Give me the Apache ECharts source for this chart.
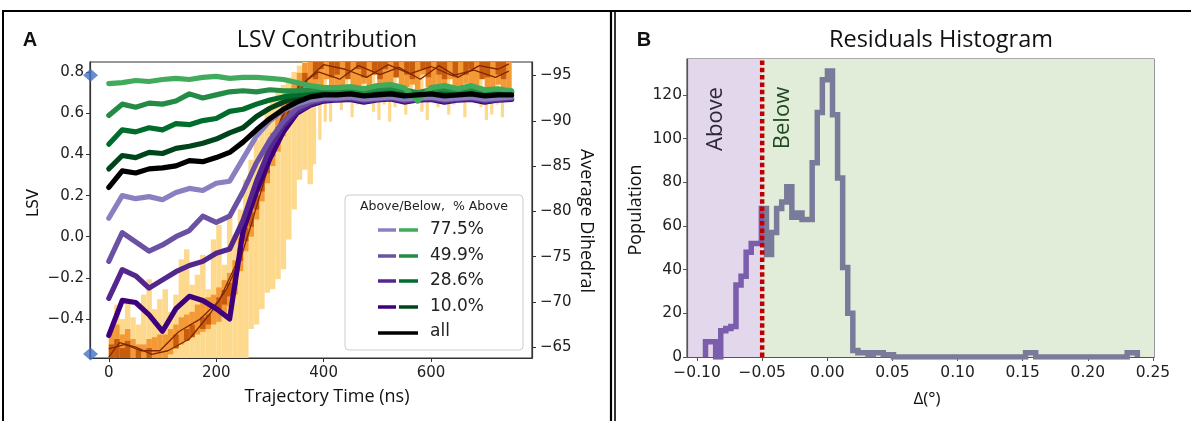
<!DOCTYPE html>
<html><head><meta charset="utf-8">
<script src="https://cdn.jsdelivr.net/npm/echarts@6/dist/echarts.min.js"></script>
<style>html,body{margin:0;padding:0;background:#fff}#c{width:1191px;height:421px}</style>
</head><body><div id="c"></div>
<script>
// ---------- Panel A data ----------
const times = [0,25,50,75,100,125,150,175,200,225,250,275,300,325,350,375,400,425,450,475,500,525,550,575,600,625,650,675,700,725,750];
const green775 = [0.745,0.75,0.76,0.755,0.765,0.77,0.765,0.775,0.78,0.77,0.775,0.775,0.77,0.765,0.75,0.735,0.725,0.725,0.73,0.72,0.735,0.74,0.725,0.66,0.725,0.735,0.72,0.735,0.715,0.72,0.71];
const green499 = [0.59,0.645,0.63,0.65,0.645,0.66,0.695,0.675,0.69,0.705,0.71,0.705,0.715,0.71,0.71,0.715,0.72,0.715,0.72,0.71,0.72,0.725,0.715,0.70,0.715,0.72,0.71,0.72,0.71,0.715,0.705];
const green286 = [0.45,0.52,0.51,0.53,0.52,0.55,0.545,0.565,0.575,0.61,0.62,0.645,0.665,0.68,0.69,0.70,0.71,0.71,0.715,0.705,0.71,0.715,0.705,0.695,0.71,0.71,0.705,0.715,0.705,0.71,0.70];
const green100 = [0.33,0.395,0.385,0.41,0.405,0.43,0.44,0.455,0.475,0.505,0.53,0.585,0.625,0.655,0.68,0.69,0.70,0.705,0.71,0.70,0.705,0.71,0.70,0.69,0.705,0.705,0.70,0.71,0.70,0.705,0.70];
const allLSV   = [0.24,0.32,0.31,0.33,0.335,0.345,0.37,0.365,0.385,0.41,0.46,0.52,0.575,0.62,0.655,0.68,0.69,0.69,0.695,0.685,0.69,0.695,0.685,0.69,0.695,0.685,0.69,0.695,0.685,0.69,0.69];
const purple775 = [0.09,0.2,0.185,0.195,0.18,0.215,0.235,0.225,0.26,0.27,0.38,0.49,0.565,0.615,0.645,0.665,0.675,0.675,0.68,0.67,0.675,0.68,0.67,0.675,0.68,0.67,0.675,0.68,0.67,0.675,0.68];
const purple499 = [-0.12,0.02,-0.025,-0.07,-0.04,0.0,0.03,0.1,0.07,0.1,0.22,0.36,0.47,0.56,0.625,0.655,0.67,0.672,0.676,0.665,0.672,0.677,0.665,0.672,0.676,0.665,0.672,0.676,0.665,0.672,0.676];
const purple286 = [-0.30,-0.16,-0.19,-0.25,-0.21,-0.17,-0.14,-0.12,-0.08,-0.06,0.08,0.27,0.43,0.54,0.61,0.645,0.665,0.668,0.672,0.66,0.668,0.674,0.66,0.668,0.672,0.66,0.668,0.672,0.66,0.668,0.672];
const purple100 = [-0.48,-0.31,-0.32,-0.38,-0.46,-0.35,-0.29,-0.31,-0.35,-0.40,0.03,0.22,0.38,0.51,0.60,0.64,0.66,0.665,0.668,0.655,0.665,0.67,0.655,0.665,0.668,0.655,0.665,0.668,0.655,0.665,0.668];

// dihedral density columns (right axis, degrees), every 10 ns
const colTimes = [0,10,20,30,40,50,60,70,80,90,100,110,120,130,140,150,160,170,180,190,200,210,220,230,240,250,260,270,280,290,300,310,320,330,340,350,360,370,380,390,400,410,420,430,440,450,460,470,480,490,500,510,520,530,540,550,560,570,580,590,600,610,620,630,640,650,660,670,680,690,700,710,720,730,740];
const yellowTop = [-67.0,-69.7,-68.1,-70.3,-68.3,-67.5,-70.8,-72.5,-69.2,-70.3,-71.4,-68.9,-70.8,-74.7,-75.8,-71.9,-73.0,-75.2,-71.4,-76.9,-78.5,-74.1,-79.7,-77.4,-80.2,-83.5,-85.7,-87.9,-89.6,-91.2,-92.4,-93.5,-94.0,-94.8,-95.4,-96.1,-96.5,-96.5,-96.5,-96.5,-96.5,-96.5,-96.5,-96.5,-96.5,-96.5,-96.5,-96.5,-96.5,-96.5,-96.5,-96.5,-96.5,-96.5,-96.5,-96.5,-96.5,-96.5,-96.5,-96.5,-96.5,-96.5,-96.5,-96.5,-96.5,-96.5,-96.5,-96.5,-96.5,-96.5,-96.5,-96.5,-96.5,-96.5,-96.5];
const yellowBottom = [-63.8,-63.8,-63.8,-63.8,-63.8,-63.8,-63.8,-63.8,-63.8,-63.8,-63.8,-63.8,-63.8,-63.8,-63.8,-63.8,-63.8,-63.8,-63.8,-63.8,-63.8,-63.8,-63.8,-63.8,-63.8,-63.8,-67.0,-67.5,-69.2,-71.0,-71.4,-72.5,-73.6,-76.9,-80.2,-83.5,-84.6,-83.0,-85.2,-87.9,-89.9,-89.9,-92.4,-91.2,-92.6,-90.4,-91.8,-92.4,-92.4,-91.0,-90.1,-91.8,-89.9,-91.5,-92.4,-90.7,-92.4,-92.6,-91.0,-90.1,-92.4,-91.5,-92.6,-90.7,-91.8,-92.4,-90.4,-92.4,-92.4,-91.5,-90.1,-90.7,-91.8,-90.4,-92.4];
const orangeTop = [-67.0,-67.5,-66.4,-67.0,-65.9,-65.3,-65.3,-65.9,-66.1,-66.4,-66.4,-67.0,-67.5,-68.3,-68.6,-68.9,-69.7,-70.3,-70.5,-70.8,-71.6,-72.4,-73.2,-74.6,-77.1,-79.3,-81.0,-82.9,-84.8,-86.8,-88.7,-90.4,-92.0,-93.3,-94.4,-95.3,-96.4,-96.5,-96.5,-96.5,-96.5,-96.5,-96.5,-96.5,-96.5,-96.5,-96.5,-96.5,-96.5,-96.5,-96.5,-96.5,-96.5,-96.5,-96.5,-96.5,-96.5,-96.5,-96.5,-96.5,-96.5,-96.5,-96.5,-96.5,-96.5,-96.5,-96.5,-96.5,-96.5,-96.5,-96.5,-96.5,-96.5,-96.5,-96.5];
const orangeBottom = [-63.8,-63.8,-63.8,-63.8,-63.8,-63.8,-63.8,-63.8,-63.8,-63.8,-63.8,-64.2,-64.8,-65.3,-65.9,-66.1,-66.4,-66.7,-67.0,-67.5,-67.8,-68.6,-69.5,-70.8,-73.4,-75.6,-77.2,-79.1,-81.1,-83.1,-85.0,-86.6,-88.3,-89.6,-90.7,-91.6,-92.7,-93.7,-94.0,-93.2,-94.6,-93.7,-93.5,-93.9,-95.1,-93.2,-93.7,-94.1,-93.5,-95.7,-93.7,-93.2,-93.9,-94.8,-93.5,-93.7,-94.0,-93.2,-95.1,-93.7,-93.5,-93.9,-93.2,-94.6,-93.7,-93.5,-94.1,-93.2,-93.9,-95.1,-93.7,-93.5,-94.0,-93.7,-93.5];
const darkTop = [-65.3,-65.9,-64.9,-65.7,null,-64.8,null,-64.9,null,null,null,null,-66.4,null,-67.0,-67.5,null,-68.3,-68.6,null,-70.5,-71.3,-72.1,-73.5,-76.0,-78.2,-79.9,-81.8,-83.7,-85.7,-87.6,-89.3,-90.9,-92.2,-93.3,-94.2,-95.3,null,-96.5,-96.5,null,-96.5,-96.5,null,-96.5,null,-96.5,-96.5,null,-96.5,-96.5,-96.5,null,-96.5,null,-96.5,-96.5,null,-96.5,-96.5,null,-96.5,-96.5,null,-96.5,null,-96.5,-96.5,null,-96.5,-96.5,null,-96.5,-96.5,null];
const darkBottom = [-63.8,-63.8,-63.8,-63.8,null,-63.8,null,-63.8,null,null,null,null,-64.9,null,-65.7,-66.1,null,-67.0,-67.5,null,-68.9,-69.7,-70.6,-71.9,-74.5,-76.7,-78.3,-80.2,-82.2,-84.2,-86.1,-87.7,-89.4,-90.7,-91.8,-92.7,-93.8,null,-94.6,-95.7,null,-94.8,-95.1,null,-94.6,null,-95.7,-94.8,null,-95.1,-94.6,-95.7,null,-94.8,null,-95.1,-94.6,null,-95.7,-94.8,null,-95.1,-94.6,null,-94.8,null,-95.1,-95.7,null,-94.6,-94.8,null,-95.1,-94.6,null];
const brownT1 = [0,30,60,95,130,170,205,235,255,280,320,355,390,430,465,505,540,580,615,650,690,725,745];
const brownD1 = [-64.8,-65.3,-64.6,-64.6,-66.7,-68.1,-70.1,-73.9,-78.0,-83.0,-90.1,-93.9,-95.4,-94.6,-96.1,-95.1,-95.9,-94.6,-96.1,-94.8,-96.1,-95.7,-96.3];
const brownT2 = [0,20,50,80,110,150,190,220,245,265,290,310,340,370,400,440,480,520,560,600,640,680,720,745];
const brownD2 = [-63.9,-65.5,-65.0,-64.2,-64.6,-65.9,-68.8,-71.5,-74.7,-78.5,-83.5,-87.5,-91.8,-94.6,-96.2,-95.7,-94.8,-96.2,-95.2,-96.0,-95.0,-95.6,-94.8,-95.5];
const legendLabels = ['77.5%','49.9%','28.6%','10.0%'];
const xTicksA = [0,200,400,600];
const yTicksA = [-0.4,-0.2,0,0.2,0.4,0.6,0.8];
const yTicksA2 = [-95,-90,-85,-80,-75,-70,-65];
const markerPts = [[-34,0.786],[-34,-0.571]];

// ---------- Panel B data ----------
const binStart = -0.0935, binWidth = 0.0039;
const histCounts = [7,7,0,12,13,14,33,37,48,52,52,68,47,57,68,71,78,64,66,63,63,89,112,127,131,111,82,41,20,3,2,2,1,2,2,1,1,
  0,0,0,0,0,0,0,0,0,0,0,0,0,0,0,0,0,0,0,0,0,0,0,0,0,0,
  2,2,
  0,0,0,0,0,0,0,0,0,0,0,0,0,0,0,0,0,0,
  2,2];
const splitX = -0.05;
const xRangeB = [-0.1077, 0.2508];
const yRangeB = [0, 136.5];
const xTicksB = [-0.1,-0.05,0,0.05,0.1,0.15,0.2,0.25];
const yTicksB = [0,20,40,60,80,100,120];

// ---------- styles ----------
const purpleCols = ['#8a80c1','#6a51a3','#54278f','#3f007d'];
const greenCols  = ['#41ab5d','#238b45','#006d2c','#00441b'];
const bgColors = ['#e3d7ec','#e1ecd9'];
const minus = s => String(s).replace('-', '\u2212');
const tickFontA = {fontFamily:'DejaVu Sans', fontSize:15, color:'#222'};
const tickFontB = {fontFamily:'DejaVu Sans', fontSize:15.5, color:'#222'};

function lineSeries(arr, color, z){
  return {type:'line', xAxisIndex:0, yAxisIndex:0, showSymbol:false, silent:true, z:z,
    data: times.map((t,i)=>[t, arr[i]]),
    lineStyle:{color:color, width:5.2, join:'round', cap:'round'}};
}
// widthFn: column width in ns (style only)
function columns(tops, bots, color, widthFn, z){
  const data = [];
  colTimes.forEach((t,i)=>{ if(tops[i]!=null && bots[i]!=null) data.push([t, tops[i], bots[i]]); });
  return {type:'custom', xAxisIndex:0, yAxisIndex:1, z:z, clip:true, silent:true, data:data,
    encode:{x:0, y:[1,2]},
    renderItem:function(params, api){
      const t = api.value(0);
      const a = api.coord([t, api.value(1)]);
      const b = api.coord([t + widthFn(t), api.value(2)]);
      return {type:'rect', shape:{x:a[0], y:Math.min(a[1],b[1]), width:b[0]-a[0], height:Math.abs(b[1]-a[1])},
        style:{fill:color}};
    }};
}
function brown(ts, ds){
  return {type:'line', xAxisIndex:0, yAxisIndex:1, showSymbol:false, silent:true, z:2,
    data: ts.map((t,i)=>[t, ds[i]]), lineStyle:{color:'#7f2704', width:1.3}};
}

// histogram step data split at the Above/Below threshold
const edges = histCounts.map((c,i)=>binStart + i*binWidth);
const histLeft = [[binStart,0]], histRight = [];
let splitCount = 0;
histCounts.forEach((c,i)=>{
  if (edges[i] < splitX) { histLeft.push([edges[i], c]); splitCount = c; }
});
histLeft.push([splitX, splitCount]);
histRight.push([splitX, splitCount]);
histCounts.forEach((c,i)=>{ if (edges[i] >= splitX) histRight.push([edges[i], c]); });
histRight.push([binStart + histCounts.length*binWidth, 0]);

const series = [
  columns(yellowTop, yellowBottom, '#fdd98e', t => (t < 380 ? 10.2 : 6), 1),
  columns(orangeTop, orangeBottom, '#f39a36', t => 10.2, 1),
  columns(darkTop, darkBottom, '#c85c0e', t => 10.2, 1),
  brown(brownT1, brownD1),
  brown(brownT2, brownD2),
  lineSeries(purple100, purpleCols[3], 3),
  lineSeries(purple286, purpleCols[2], 3),
  lineSeries(purple499, purpleCols[1], 3),
  lineSeries(purple775, purpleCols[0], 3),
  lineSeries(green100, greenCols[3], 3),
  lineSeries(green286, greenCols[2], 3),
  lineSeries(green499, greenCols[1], 3),
  lineSeries(green775, greenCols[0], 3),
  lineSeries(allLSV, '#000000', 4),
  {type:'scatter', xAxisIndex:0, yAxisIndex:0, data:markerPts, symbol:'diamond', symbolSize:[15,13],
    itemStyle:{color:'#4472c4'}, clip:false, silent:true, z:10},
  // panel B background regions
  {type:'custom', xAxisIndex:1, yAxisIndex:2, z:0, silent:true, clip:true,
    data:[[xRangeB[0], splitX, 0],[splitX, xRangeB[1], 1]],
    encode:{x:[0,1]},
    renderItem:function(params, api){
      const a = api.coord([api.value(0), yRangeB[1]]);
      const b = api.coord([api.value(1), yRangeB[0]]);
      return {type:'rect', shape:{x:a[0], y:a[1], width:b[0]-a[0], height:b[1]-a[1]},
        style:{fill:bgColors[api.value(2)]}};
    }},
  {type:'line', xAxisIndex:1, yAxisIndex:2, step:'end', showSymbol:false, silent:true, z:3,
    data:histLeft, lineStyle:{width:5.5, color:'#7a5dad', join:'miter', cap:'butt'}},
  {type:'line', xAxisIndex:1, yAxisIndex:2, step:'end', showSymbol:false, silent:true, z:3,
    data:histRight, lineStyle:{width:5.5, color:'#7a7b9b', join:'miter', cap:'butt'}},
  {type:'line', xAxisIndex:1, yAxisIndex:2, showSymbol:false, silent:true, z:5,
    data:[[splitX,yRangeB[0]],[splitX,yRangeB[1]]], lineStyle:{color:'#c00000', width:4.5, type:[4.5,2.8], cap:'butt'}}
];

const g = [];
function txt(x,y,text,font,opts){
  opts = opts||{};
  g.push({type:'text', x:x, y:y, rotation:opts.rot||0, silent:true, z:100,
    style:{text:text, font:font, fill:opts.fill||'#111', textAlign:opts.align||'center', textVerticalAlign:'middle'}});
}
function ln(x1,y1,x2,y2,color,w){
  g.push({type:'line', silent:true, z:100, shape:{x1:x1,y1:y1,x2:x2,y2:y2}, style:{stroke:color, lineWidth:w}});
}
// frames
ln(2,11,1191,11,'#000',2);
ln(3,10,3,421,'#000',2);
ln(611,10,611,421,'#000',2.2);
ln(615,10,615,421,'#000',1.6);
// titles
txt(30,40,'A','bold 20px "Liberation Sans"');
txt(644,40,'B','bold 20px "Liberation Sans"');
txt(327,40,'LSV Contribution','23px "Open Sans"');
txt(941,40,'Residuals Histogram','23.5px "Open Sans"');
txt(34,203,'LSV','15px "DejaVu Sans"',{rot:Math.PI/2});
txt(586,221,'Average Dihedral','18px "Open Sans"',{rot:-Math.PI/2});
txt(327,397,'Trajectory Time (ns)','18px "Open Sans"');
txt(636,210,'Population','18px "Open Sans"',{rot:Math.PI/2});
txt(927,399,'\u0394(\u00b0)','17px "Open Sans"');
txt(716,119,'Above','22px "Open Sans"',{rot:Math.PI/2, fill:'#2d2838'});
txt(783,118,'Below','22px "Open Sans"',{rot:Math.PI/2, fill:'#1f4a22'});
// legend
g.push({type:'rect', silent:true, z:90, shape:{x:345, y:195, width:178, height:155, r:4},
  style:{fill:'rgba(255,255,255,0.85)', stroke:'#cccccc', lineWidth:1}});
txt(434,207,'Above/Below,  % Above','12.5px "DejaVu Sans"',{fill:'#222'});
const rowsY = [230,256,281,307];
legendLabels.forEach((lab,i)=>{
  ln(378,rowsY[i],396,rowsY[i],purpleCols[i],3.5);
  ln(399,rowsY[i],418,rowsY[i],greenCols[i],3.5);
  txt(430,rowsY[i],lab,'17px "DejaVu Sans"',{align:'left', fill:'#222'});
});
ln(378,333,418,333,'#000',3.5);
txt(430,332,'all','17px "DejaVu Sans"',{align:'left', fill:'#222'});

const axisCommon = (color)=>({
  axisLine:{show:true, onZero:false, lineStyle:{color:color, width:1.2}},
  splitLine:{show:false}
});

const option = {
  animation:false,
  backgroundColor:'#ffffff',
  grid:[
    {left:90, top:62, width:442, height:296, show:true, borderColor:'#333', borderWidth:1.2, backgroundColor:'transparent'},
    {left:687, top:59, width:467, height:298, show:true, borderColor:'#555', borderWidth:1.2, backgroundColor:'transparent'}
  ],
  xAxis:[
    Object.assign({gridIndex:0, type:'value', min:-35, max:788,
      axisTick:{show:true, inside:false, length:4, customValues:xTicksA, lineStyle:{color:'#333'}},
      axisLabel:Object.assign({customValues:xTicksA, margin:8, formatter:v=>minus(v)}, tickFontA)}, axisCommon('#333')),
    Object.assign({gridIndex:1, type:'value', min:xRangeB[0], max:xRangeB[1],
      axisTick:{show:true, inside:false, length:4, customValues:xTicksB, lineStyle:{color:'#555'}},
      axisLabel:Object.assign({customValues:xTicksB, margin:8, formatter:v=>minus(v.toFixed(2))}, tickFontB)}, axisCommon('#555'))
  ],
  yAxis:[
    Object.assign({gridIndex:0, type:'value', min:-0.59, max:0.85,
      axisTick:{show:true, inside:false, length:4, customValues:yTicksA, lineStyle:{color:'#333'}},
      axisLabel:Object.assign({customValues:yTicksA, margin:6, formatter:v=>minus(v.toFixed(1))}, tickFontA)}, axisCommon('#333')),
    Object.assign({gridIndex:0, type:'value', position:'right', inverse:true, min:-96.5, max:-63.8,
      axisTick:{show:true, inside:false, length:4, customValues:yTicksA2, lineStyle:{color:'#333'}},
      axisLabel:Object.assign({customValues:yTicksA2, margin:8, formatter:v=>minus(v)}, tickFontA)}, axisCommon('#333')),
    Object.assign({gridIndex:1, type:'value', min:yRangeB[0], max:yRangeB[1],
      axisTick:{show:true, inside:false, length:4, customValues:yTicksB, lineStyle:{color:'#555'}},
      axisLabel:Object.assign({customValues:yTicksB, margin:5}, tickFontB)}, axisCommon('#555'))
  ],
  graphic:{elements:g},
  series:series
};
const chart = echarts.init(document.getElementById('c'), null, {renderer:'canvas'});
chart.setOption(option);
</script></body></html>
